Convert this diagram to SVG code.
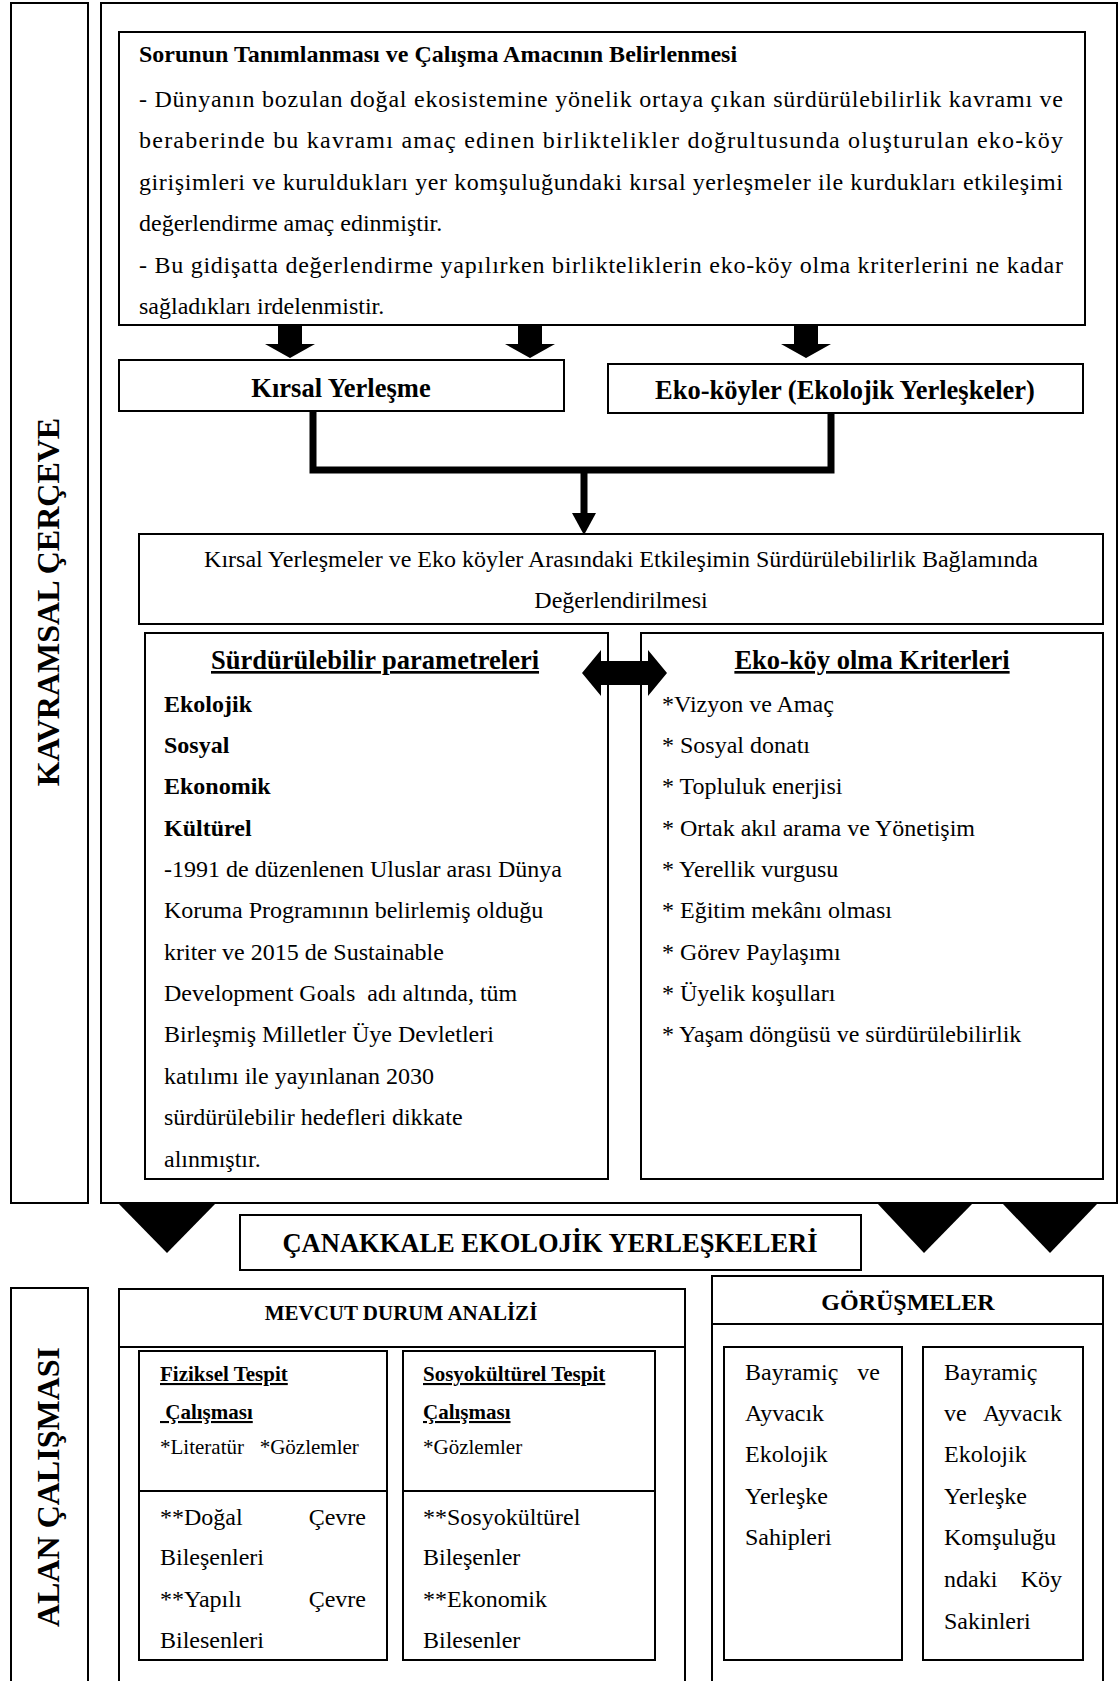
<svg xmlns="http://www.w3.org/2000/svg" width="1120" height="1681" viewBox="0 0 1120 1681">
<style>
.box{fill:#fff;stroke:#000;stroke-width:2}
.frame{fill:none;stroke:#000;stroke-width:2}
.t{font-family:"Liberation Serif","Times New Roman",serif;fill:#000;font-size:24px}
.b{font-weight:bold}
.u{text-decoration:underline}
.s21{font-size:21px}
.s26{font-size:26.5px}
.s32{font-size:32px}
.m{text-anchor:middle}
.e{text-anchor:end}
.line{fill:none;stroke:#000;stroke-width:7}
.fill{fill:#000;stroke:none}
</style>
<rect width="1120" height="1681" fill="#fff"/>

<g id="kavramsal-label">
<rect class="frame" x="11" y="3" width="77" height="1200"/>
<text class="t b s32 m" transform="translate(59,602) rotate(-90)">KAVRAMSAL ÇERÇEVE</text>
</g>
<g id="kavramsal-frame">
<rect class="frame" x="101" y="3" width="1016" height="1200"/>
</g>

<g id="problem">
<rect class="box" x="119" y="32" width="966" height="293"/>
<text class="t b" x="139" y="62">Sorunun Tanımlanması ve Çalışma Amacının Belirlenmesi</text>
<text class="t" x="139" y="107" textLength="924" lengthAdjust="spacing">- Dünyanın bozulan doğal ekosistemine yönelik ortaya çıkan sürdürülebilirlik kavramı ve</text>
<text class="t" x="139" y="148" textLength="924" lengthAdjust="spacing">beraberinde bu kavramı amaç edinen birliktelikler doğrultusunda oluşturulan eko-köy</text>
<text class="t" x="139" y="190" textLength="924" lengthAdjust="spacing">girişimleri ve kuruldukları yer komşuluğundaki kırsal yerleşmeler ile kurdukları etkileşimi</text>
<text class="t" x="139" y="231">değerlendirme amaç edinmiştir.</text>
<text class="t" x="139" y="273" textLength="924" lengthAdjust="spacing">- Bu gidişatta değerlendirme yapılırken birlikteliklerin eko-köy olma kriterlerini ne kadar</text>
<text class="t" x="139" y="314">sağladıkları irdelenmistir.</text>
</g>

<g id="kirsal">
<rect class="box" x="119" y="360" width="445" height="51"/>
<text class="t b s26 m" x="341" y="397">Kırsal Yerleşme</text>
</g>
<g id="ekokoyler">
<rect class="box" x="608" y="364" width="475" height="49"/>
<text class="t b s26 m" x="845" y="399">Eko-köyler (Ekolojik Yerleşkeler)</text>
</g>

<g id="degerlendirme">
<rect class="box" x="139" y="534" width="964" height="90"/>
<text class="t m" x="621" y="567">Kırsal Yerleşmeler ve Eko köyler Arasındaki Etkileşimin Sürdürülebilirlik Bağlamında</text>
<text class="t m" x="621" y="608">Değerlendirilmesi</text>
</g>

<g id="parametreler">
<rect class="box" x="145" y="633" width="463" height="546"/>
<text class="t b u s26" x="211" y="669">Sürdürülebilir parametreleri</text>
<text class="t b" x="164" y="712">Ekolojik</text>
<text class="t b" x="164" y="753">Sosyal</text>
<text class="t b" x="164" y="794">Ekonomik</text>
<text class="t b" x="164" y="836">Kültürel</text>
<text class="t" x="164" y="877">-1991 de düzenlenen Uluslar arası Dünya</text>
<text class="t" x="164" y="918">Koruma Programının belirlemiş olduğu</text>
<text class="t" x="164" y="960">kriter ve 2015 de Sustainable</text>
<text class="t" x="164" y="1001" xml:space="preserve">Development Goals  adı altında, tüm</text>
<text class="t" x="164" y="1042">Birleşmiş Milletler Üye Devletleri</text>
<text class="t" x="164" y="1084">katılımı ile yayınlanan 2030</text>
<text class="t" x="164" y="1125">sürdürülebilir hedefleri dikkate</text>
<text class="t" x="164" y="1167">alınmıştır.</text>
</g>

<g id="kriterler">
<rect class="box" x="641" y="633" width="462" height="546"/>
<text class="t b u s26 m" x="872" y="669">Eko-köy olma Kriterleri</text>
<text class="t" x="662" y="712">*Vizyon ve Amaç</text>
<text class="t" x="662" y="753">* Sosyal donatı</text>
<text class="t" x="662" y="794">* Topluluk enerjisi</text>
<text class="t" x="662" y="836">* Ortak akıl arama ve Yönetişim</text>
<text class="t" x="662" y="877">* Yerellik vurgusu</text>
<text class="t" x="662" y="918">* Eğitim mekânı olması</text>
<text class="t" x="662" y="960">* Görev Paylaşımı</text>
<text class="t" x="662" y="1001">* Üyelik koşulları</text>
<text class="t" x="662" y="1042">* Yaşam döngüsü ve sürdürülebilirlik</text>
</g>

<g id="canakkale">
<rect class="box" x="240" y="1215" width="621" height="55"/>
<text class="t b s26 m" x="550" y="1252">ÇANAKKALE EKOLOJİK YERLEŞKELERİ</text>
</g>

<g id="alan-label">
<rect class="frame" x="11" y="1288" width="77" height="420"/>
<text class="t b s32 m" transform="translate(59,1487) rotate(-90)">ALAN ÇALIŞMASI</text>
</g>

<g id="mevcut">
<rect class="box" x="119" y="1289" width="566" height="420"/>
<line class="frame" x1="119" y1="1347" x2="685" y2="1347"/>
<text class="t b s21 m" x="401" y="1320">MEVCUT DURUM ANALİZİ</text>
</g>

<g id="fiziksel">
<rect class="box" x="139" y="1351" width="248" height="309"/>
<line class="frame" x1="139" y1="1491" x2="387" y2="1491"/>
<text class="t b u s21" x="160" y="1381">Fiziksel Tespit</text>
<text class="t b u s21" x="160" y="1419" xml:space="preserve"> Çalışması</text>
<text class="t s21" x="160" y="1454" xml:space="preserve">*Literatür   *Gözlemler</text>
<text class="t" x="160" y="1525">**Doğal</text>
<text class="t e" x="366" y="1525">Çevre</text>
<text class="t" x="160" y="1565">Bileşenleri</text>
<text class="t" x="160" y="1607">**Yapılı</text>
<text class="t e" x="366" y="1607">Çevre</text>
<text class="t" x="160" y="1648">Bilesenleri</text>
</g>

<g id="sosyokulturel">
<rect class="box" x="403" y="1351" width="252" height="309"/>
<line class="frame" x1="403" y1="1491" x2="655" y2="1491"/>
<text class="t b u s21" x="423" y="1381">Sosyokültürel Tespit</text>
<text class="t b u s21" x="423" y="1419">Çalışması</text>
<text class="t s21" x="423" y="1454">*Gözlemler</text>
<text class="t" x="423" y="1525">**Sosyokültürel</text>
<text class="t" x="423" y="1565">Bileşenler</text>
<text class="t" x="423" y="1607">**Ekonomik</text>
<text class="t" x="423" y="1648">Bilesenler</text>
</g>

<g id="gorusmeler">
<rect class="box" x="712" y="1276" width="391" height="433"/>
<line class="frame" x1="712" y1="1324" x2="1103" y2="1324"/>
<text class="t b m" x="908" y="1310">GÖRÜŞMELER</text>
</g>

<g id="sahipler">
<rect class="box" x="724" y="1347" width="178" height="313"/>
<text class="t" x="745" y="1380">Bayramiç</text>
<text class="t e" x="880" y="1380">ve</text>
<text class="t" x="745" y="1421">Ayvacık</text>
<text class="t" x="745" y="1462">Ekolojik</text>
<text class="t" x="745" y="1504">Yerleşke</text>
<text class="t" x="745" y="1545">Sahipleri</text>
</g>

<g id="sakinler">
<rect class="box" x="923" y="1347" width="160" height="313"/>
<text class="t" x="944" y="1380">Bayramiç</text>
<text class="t" x="944" y="1421">ve</text>
<text class="t e" x="1062" y="1421">Ayvacık</text>
<text class="t" x="944" y="1462">Ekolojik</text>
<text class="t" x="944" y="1504">Yerleşke</text>
<text class="t" x="944" y="1545">Komşuluğu</text>
<text class="t" x="944" y="1587">ndaki</text>
<text class="t e" x="1062" y="1587">Köy</text>
<text class="t" x="944" y="1629">Sakinleri</text>
</g>

<g id="connectors">
<polygon class="fill" points="278,325 302,325 302,344 315,344 290,358 265,344 278,344"/>
<polygon class="fill" points="518,325 542,325 542,344 555,344 530,358 505,344 518,344"/>
<polygon class="fill" points="794,325 818,325 818,344 831,344 806,358 781,344 794,344"/>
<path class="line" d="M313,411 V470 H831 V413"/>
<path class="line" d="M584,470 V515"/>
<polygon class="fill" points="572,513 596,513 584,535"/>
<polygon class="fill" points="582,673 601,650 601,661 648,661 648,650 667,673 648,696 648,685 601,685 601,696"/>
<polygon class="fill" points="118,1203 216,1203 167,1253"/>
<polygon class="fill" points="877,1203 973,1203 924,1253"/>
<polygon class="fill" points="1002,1203 1098,1203 1050,1253"/>
</g>
</svg>
